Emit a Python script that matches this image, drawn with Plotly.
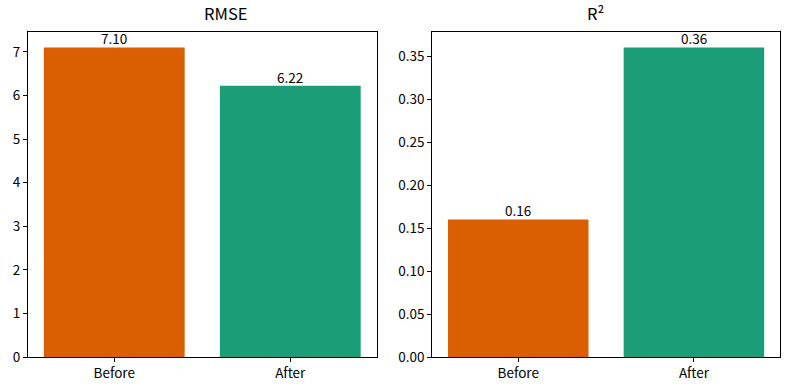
import plotly.graph_objects as go
from plotly.subplots import make_subplots

categories = ["Before", "After"]
rmse_values = [7.10, 6.22]
r2_values = [0.16, 0.36]
bar_colors = ["#d95f02", "#1b9e77"]
titles = ["RMSE", "R²"]
rmse_ticks = [0, 1, 2, 3, 4, 5, 6, 7]
r2_ticks = [0.00, 0.05, 0.10, 0.15, 0.20, 0.25, 0.30, 0.35]

FONT = "Noto Sans CJK JP"
W, H = 790, 390

# plot area in pixels
L, R, T, B = 28.3, 780.0, 31.7, 356.8
PW = R - L

fig = make_subplots(rows=1, cols=2)

for col, vals in [(1, rmse_values), (2, r2_values)]:
    fig.add_trace(
        go.Bar(
            x=categories, y=vals, marker=dict(color=bar_colors, line=dict(width=0)),
            width=0.8, showlegend=False, hoverinfo="skip",
        ),
        row=1, col=col,
    )
    xref = "x" if col == 1 else "x2"
    yref = "y" if col == 1 else "y2"
    for c, v in zip(categories, vals):
        fig.add_annotation(
            x=c, y=v, xref=xref, yref=yref, text=f"{v:.2f}", showarrow=False,
            yanchor="bottom", yshift=-3, font=dict(family=FONT, size=13.5, color="black"),
        )

x1 = [0, (376.7 - L) / PW]
x2 = [(432.3 - L) / PW, 1]
yd = [0, 1]

axis_common = dict(
    showline=True, linecolor="black", linewidth=1, mirror=True, showgrid=False,
    zeroline=False, ticks="outside", ticklen=4, tickwidth=1, tickcolor="black",
    tickfont=dict(family=FONT, size=13.5, color="black"), automargin=False,
)

fig.update_xaxes(axis_common, range=[-0.49, 1.49])
fig.update_yaxes(axis_common)
fig.update_layout(
    xaxis=dict(domain=x1),
    xaxis2=dict(domain=x2),
    yaxis=dict(domain=yd, range=[0, max(rmse_values) * 1.05], tickvals=rmse_ticks,
               ticktext=[str(t) for t in rmse_ticks]),
    yaxis2=dict(domain=yd, range=[0, max(r2_values) * 1.05], tickvals=r2_ticks,
                ticktext=[f"{t:.2f}" for t in r2_ticks]),
)

for t, dom in zip(titles, [x1, x2]):
    fig.add_annotation(
        x=(dom[0] + dom[1]) / 2, y=1, xref="paper", yref="paper", text=t,
        showarrow=False, yanchor="bottom", yshift=5,
        font=dict(family=FONT, size=16.5, color="black"),
    )

fig.update_layout(
    width=W, height=H, margin=dict(l=L, r=W - R, t=T, b=H - B, autoexpand=False),
    plot_bgcolor="white", paper_bgcolor="white", bargap=0.2,
    font=dict(family=FONT, color="black"),
)

fig.write_html(
    "out.html",
    config={"displayModeBar": False},
    post_script="document.body.style.margin='0';document.body.style.overflow='hidden';",
)
